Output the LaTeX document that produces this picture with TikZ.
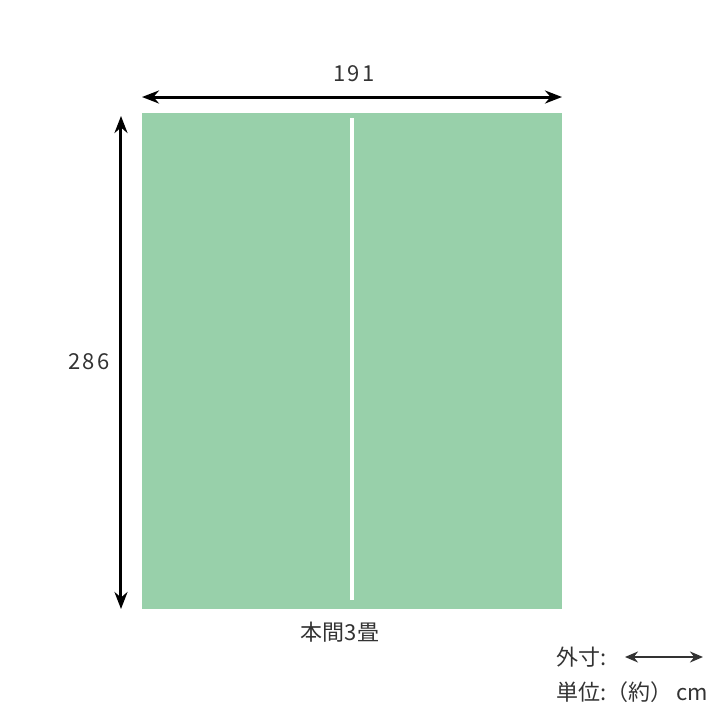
\documentclass[tikz,border=0pt]{standalone}
\usepackage{fontspec}
\setmainfont{Noto Sans CJK JP}
\newfontfamily\numfont[LetterSpace=10]{Noto Sans CJK JP}
\usetikzlibrary{arrows.meta}
\definecolor{tatami}{HTML}{98D0AA}
\definecolor{ink}{HTML}{333333}
\begin{document}
\begin{tikzpicture}[
		x=0.5pt,y=-0.5pt,
		dim/.style = {{Stealth[length=8.5pt,width=6.5pt]}-{Stealth[length=8.5pt,width=6.5pt]}, line width=1.5pt},
		small/.style = {{Stealth[length=6.5pt,width=5.5pt]}-{Stealth[length=6.5pt,width=5.5pt]}, line width=1.2pt, ink},
		lbl/.style = {text=ink, font=\fontsize{11}{13}\selectfont, inner sep=0pt}
	]
	\useasboundingbox (0,0) rectangle (720,720);
	\fill [tatami] (142,113) rectangle (562,609);
	\coordinate (seamtop) at (352,118);
	\coordinate (seambot) at (352,600);
	\draw [white, line width=1.6pt] (seamtop) -- (seambot);

	\coordinate (wl) at (142,97);
	\coordinate (wr) at (562,97);
	\coordinate (ht) at (121,116);
	\coordinate (hb) at (121,609);
	\node (width) [lbl] at (354,74) {\numfont 191};
	\node (height) [lbl] at (89,362) {\numfont 286};
	\node (name) [lbl] at (340,632) {本間3畳};
	\node (outer) [lbl, anchor=west] at (556,657) {外寸:};
	\node (unit) [lbl, anchor=west] at (556,692) {単位:（約）\,cm};
	\coordinate (kl) at (625,657);
	\coordinate (kr) at (703,657);

	\draw [dim] (wl) -- (wr);
	\draw [dim] (ht) -- (hb);
	\draw [small] (kl) -- (kr);
\end{tikzpicture}
\end{document}
